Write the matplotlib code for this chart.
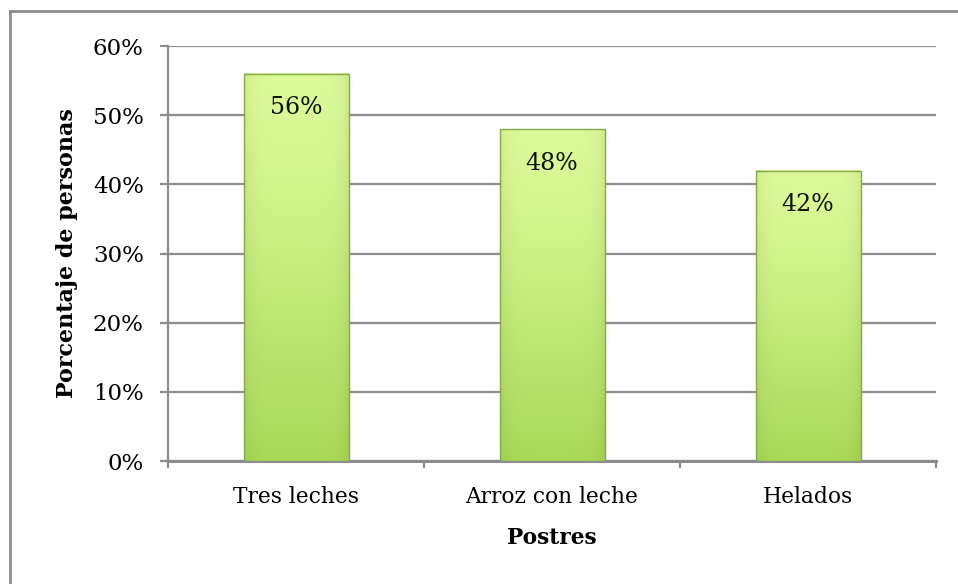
import numpy as np
import matplotlib.pyplot as plt
from matplotlib.ticker import PercentFormatter
from matplotlib.lines import Line2D

# Datos
postres = ['Tres leches', 'Arroz con leche', 'Helados']
porcentajes = [56, 48, 42]
etiquetas = ['56%', '48%', '42%']

plt.rcParams['font.family'] = 'DejaVu Serif'

fig = plt.figure(figsize=(9.58, 5.84), dpi=100)
ax = fig.add_axes([0.1754, 0.2106, 0.8017, 0.7106])

x = np.arange(len(postres))
bars = ax.bar(x, porcentajes, width=0.41, color='none',
              edgecolor='#86a84a', linewidth=1.0, zorder=4)

# degradado verde dentro de cada barra
top = np.array([0.86, 0.98, 0.60])
bottom = np.array([0.66, 0.85, 0.34])
ny, nx = 200, 60
t = np.linspace(0, 1, ny)[:, None, None] ** 1.3
grad = top * (1 - t) + bottom * t
u = np.linspace(-1, 1, nx)[None, :, None]
shade = 1 - 0.06 * np.abs(u) ** 6
img = np.clip(grad * shade, 0, 1)

for b in bars:
    x0, w, h = b.get_x(), b.get_width(), b.get_height()
    ax.imshow(img, extent=[x0, x0 + w, 0, h], aspect='auto',
              zorder=3, interpolation='bilinear')

for b, lab in zip(bars, etiquetas):
    ax.annotate(lab, (b.get_x() + b.get_width() / 2, b.get_height()),
                xytext=(0, -24.5), textcoords='offset points',
                ha='center', va='center', fontsize=17, color='#111111', zorder=5)

ax.set_xlim(-0.5, len(postres) - 0.5)
ax.set_ylim(0, 60)
ax.set_yticks(np.arange(0, 61, 10))
ax.yaxis.set_major_formatter(PercentFormatter(decimals=0))
ax.set_xticks(x)
ax.set_xticklabels(postres)
ax.set_xticks(np.arange(-0.5, len(postres), 1), minor=True)

gris = '#8c8c8c'
ax.grid(axis='y', color=gris, linewidth=1.6, zorder=1)
ax.set_axisbelow(True)
for s in ['top', 'right']:
    ax.spines[s].set_visible(False)
ax.spines['left'].set_color(gris)
ax.spines['left'].set_linewidth(1.6)
ax.spines['bottom'].set_color(gris)
ax.spines['bottom'].set_linewidth(2.2)

ax.tick_params(axis='y', length=6, width=1.6, color=gris, pad=11.5, labelsize=16.5)
ax.tick_params(axis='x', which='major', length=0, pad=18, labelsize=15.7)
ax.tick_params(axis='x', which='minor', length=5, width=1.6, color=gris)

ax.set_xlabel('Postres', fontsize=15.7, fontweight='bold', labelpad=14)
ax.set_ylabel('Porcentaje de personas', fontsize=16, fontweight='bold', labelpad=11)

# borde exterior del gráfico
fig.add_artist(Line2D([10 / 958, 1], [1 - 11 / 584, 1 - 11 / 584],
                      color=gris, linewidth=2, transform=fig.transFigure))
fig.add_artist(Line2D([10 / 958, 10 / 958], [0, 1 - 11 / 584],
                      color=gris, linewidth=2, transform=fig.transFigure))

fig.savefig('out.png', dpi=100)
